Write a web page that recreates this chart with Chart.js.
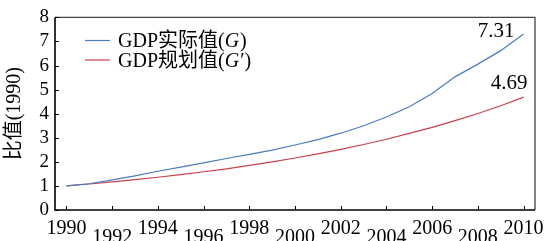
<!DOCTYPE html>
<html>
<head>
<meta charset="utf-8">
<script src="https://cdn.jsdelivr.net/npm/chart.js@4"></script>
<style>
  html, body { margin: 0; padding: 0; background: #fff; }
  #wrap { width: 547px; height: 241px; }
</style>
</head>
<body>
<div id="wrap"><canvas id="myLineChart" width="547" height="241"></canvas></div>
<script>
const years = [1990, 1991, 1992, 1993, 1994, 1995, 1996, 1997, 1998, 1999, 2000,
               2001, 2002, 2003, 2004, 2005, 2006, 2007, 2008, 2009, 2010];
const actual = [1.00, 1.09, 1.25, 1.42, 1.61, 1.78, 1.96, 2.14, 2.31, 2.49, 2.70,
                2.92, 3.19, 3.50, 3.86, 4.29, 4.84, 5.53, 6.06, 6.62, 7.31];
const planned = [1.00, 1.08, 1.17, 1.26, 1.36, 1.47, 1.59, 1.71, 1.85, 2.00, 2.16,
                 2.33, 2.52, 2.72, 2.94, 3.18, 3.43, 3.71, 4.01, 4.33, 4.69];
const xTicks = [1990, 1992, 1994, 1996, 1998, 2000, 2002, 2004, 2006, 2008, 2010];
const yTicks = [0, 1, 2, 3, 4, 5, 6, 7, 8];
const endLabels = ['7.31', '4.69'];

const blue = '#4a7cc6';
const red = '#c8414b';
const serif = '"Liberation Serif", "Noto Sans CJK SC", serif';

// frame, inward ticks, staggered year labels, legend, end values
const extras = {
  id: 'extras',
  afterDraw(chart) {
    const c = chart.ctx;
    const a = chart.chartArea;
    const xs = chart.scales.x, ys = chart.scales.y;
    c.save();
    c.strokeStyle = '#444';
    c.lineWidth = 1.3;
    c.beginPath();
    c.moveTo(a.left, a.top); c.lineTo(a.right, a.top); c.lineTo(a.right, a.bottom);
    c.stroke();
    c.strokeStyle = '#000';
    c.lineWidth = 1.6;
    c.beginPath();
    c.moveTo(a.left, a.top); c.lineTo(a.left, a.bottom); c.lineTo(a.right, a.bottom);
    c.stroke();

    c.lineWidth = 1;
    c.beginPath();
    yTicks.forEach(v => {
      const y = Math.round(ys.getPixelForValue(v)) + 0.5;
      c.moveTo(a.left, y); c.lineTo(a.left + 4, y);
    });
    xTicks.forEach(v => {
      const x = Math.round(xs.getPixelForValue(v)) + 0.5;
      c.moveTo(x, a.bottom); c.lineTo(x, a.bottom - 4);
    });
    c.stroke();

    c.fillStyle = '#000';
    c.font = '20px ' + serif;
    c.textAlign = 'center';
    c.textBaseline = 'alphabetic';
    xTicks.forEach((v, i) => {
      c.fillText(String(v), xs.getPixelForValue(v), i % 2 === 0 ? 234 : 243);
    });

    // legend
    const rows = [
      { color: blue, pre: 'GDP实际值(', it: 'G', post: ')' },
      { color: red, pre: 'GDP规划值(', it: 'G′', post: ')' }
    ];
    c.textAlign = 'left';
    rows.forEach((r, i) => {
      const y = 40.5 + i * 19.5;
      c.strokeStyle = r.color;
      c.lineWidth = 1.2;
      c.beginPath(); c.moveTo(85, y); c.lineTo(110, y); c.stroke();
      let x = 118;
      const base = y + 6.5;
      c.font = '20px ' + serif;
      c.fillText(r.pre, x, base); x += c.measureText(r.pre).width;
      c.font = 'italic 20px ' + serif;
      c.fillText(r.it, x, base); x += c.measureText(r.it).width + 1;
      c.font = '20px ' + serif;
      c.fillText(r.post, x, base);
    });

    // end values
    c.font = '21px ' + serif;
    c.textAlign = 'right';
    const last = years.length - 1;
    const bx = xs.getPixelForValue(years[last]);
    c.fillText(endLabels[0], bx - 9, ys.getPixelForValue(actual[last]) + 3);
    c.fillText(endLabels[1], bx + 4, ys.getPixelForValue(planned[last]) - 8);
    c.restore();
  }
};

function draw() {
  const ctx = document.getElementById('myLineChart').getContext('2d');

  new Chart(ctx, {
    type: 'line',
    data: {
      datasets: [{
        label: 'GDP实际值(G)',
        data: years.map((y, i) => ({ x: y, y: actual[i] })),
        borderColor: blue,
        borderWidth: 1.2,
        pointRadius: 0,
        tension: 0
      }, {
        label: "GDP规划值(G')",
        data: years.map((y, i) => ({ x: y, y: planned[i] })),
        borderColor: red,
        borderWidth: 1.2,
        pointRadius: 0,
        tension: 0
      }]
    },
    options: {
      responsive: false,
      animation: false,
      layout: { padding: { left: 0, right: 12, top: 15, bottom: 0 } },
      plugins: { legend: { display: false }, tooltip: { enabled: false } },
      scales: {
        x: {
          type: 'linear',
          min: 1989.5,
          max: 2010.5,
          grid: { display: false },
          border: { display: false },
          ticks: { display: false },
          afterFit(scale) { scale.height = 31; }
        },
        y: {
          min: 0,
          max: 8,
          afterBuildTicks(scale) { scale.ticks = yTicks.map(v => ({ value: v })); },
          grid: { display: false, drawTicks: false },
          border: { display: false },
          ticks: {
            autoSkip: false,
            color: '#000',
            padding: 6,
            font: { family: serif, size: 19 }
          },
          title: {
            display: true,
            text: '比值(1990)',
            color: '#000',
            padding: { top: 3, bottom: 0 },
            font: { family: serif, size: 20 }
          },
          afterFit(scale) { scale.width = 55; }
        }
      }
    },
    plugins: [extras]
  });
}

Promise.all([
  document.fonts.load('19px "Liberation Serif"'),
  document.fonts.load('italic 20px "Liberation Serif"'),
  document.fonts.load('20px "Noto Sans CJK SC"', '比值')
]).then(draw, draw);
</script>
</body>
</html>
